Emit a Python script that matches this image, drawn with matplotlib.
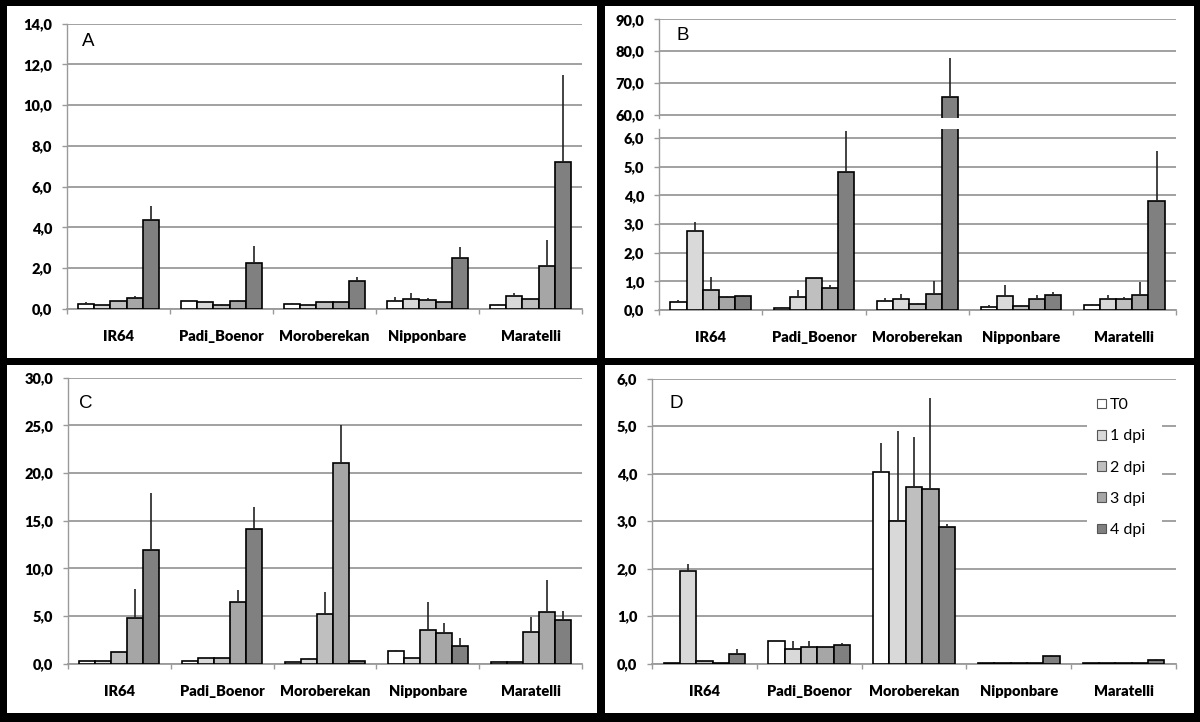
import matplotlib
matplotlib.use("Agg")
import matplotlib.pyplot as plt
import numpy as np
from matplotlib.patches import Rectangle, Patch
from matplotlib.ticker import FuncFormatter, FixedLocator
from matplotlib.font_manager import FontProperties

cultivars = ["IR64", "Padi_Boenor", "Moroberekan", "Nipponbare", "Maratelli"]
series = ["T0", "1 dpi", "2 dpi", "3 dpi", "4 dpi"]
colors = ["#ffffff", "#d9d9d9", "#bfbfbf", "#a6a6a6", "#808080"]

# rows = series (T0..4 dpi), columns = cultivars
A_vals = [[0.26, 0.38, 0.25, 0.38, 0.20],
          [0.20, 0.33, 0.20, 0.50, 0.62],
          [0.38, 0.20, 0.32, 0.45, 0.50],
          [0.55, 0.38, 0.32, 0.32, 2.10],
          [4.35, 2.25, 1.35, 2.50, 7.20]]
A_err = [[0.07, 0.03, 0.02, 0.22, 0.03],
         [0.02, 0.00, 0.02, 0.28, 0.15],
         [0.02, 0.03, 0.02, 0.08, 0.02],
         [0.10, 0.04, 0.03, 0.03, 1.27],
         [0.70, 0.85, 0.22, 0.55, 4.30]]

B_vals = [[0.27, 0.08, 0.32, 0.10, 0.18],
          [2.75, 0.45, 0.40, 0.50, 0.40],
          [0.70, 1.10, 0.22, 0.15, 0.37],
          [0.45, 0.75, 0.57, 0.38, 0.53],
          [0.48, 4.80, 65.5, 0.53, 3.80]]
B_err = [[0.08, 0.02, 0.10, 0.07, 0.03],
         [0.33, 0.25, 0.17, 0.37, 0.12],
         [0.45, 0.03, 0.03, 0.03, 0.10],
         [0.03, 0.13, 0.43, 0.15, 0.44],
         [0.03, 1.45, 12.5, 0.10, 1.75]]

C_vals = [[0.30, 0.30, 0.15, 1.35, 0.15],
          [0.30, 0.55, 0.45, 0.55, 0.15],
          [1.20, 0.55, 5.25, 3.55, 3.30],
          [4.75, 6.45, 21.05, 3.20, 5.40],
          [11.9, 14.1, 0.28, 1.85, 4.60]]
C_err = [[0.00, 0.00, 0.00, 0.05, 0.00],
         [0.00, 0.02, 0.10, 0.00, 0.00],
         [0.05, 0.00, 2.30, 2.95, 1.55],
         [3.10, 1.25, 3.95, 1.10, 3.35],
         [6.00, 2.30, 0.00, 0.80, 0.90]]

D_vals = [[0.02, 0.48, 4.03, 0.02, 0.02],
          [1.95, 0.30, 3.00, 0.02, 0.02],
          [0.05, 0.35, 3.72, 0.02, 0.02],
          [0.02, 0.35, 3.67, 0.02, 0.02],
          [0.20, 0.40, 2.88, 0.17, 0.08]]
D_err = [[0.00, 0.00, 0.62, 0.00, 0.00],
         [0.15, 0.17, 1.90, 0.00, 0.00],
         [0.01, 0.13, 1.06, 0.00, 0.00],
         [0.00, 0.00, 1.93, 0.00, 0.00],
         [0.12, 0.04, 0.07, 0.02, 0.01]]

A_ticks = [0, 2, 4, 6, 8, 10, 12, 14]
B_low_ticks = [0, 1, 2, 3, 4, 5, 6]
B_high_ticks = [60, 70, 80, 90]
C_ticks = [0, 5, 10, 15, 20, 25, 30]
D_ticks = [0, 1, 2, 3, 4, 5, 6]

W, H = 1200, 722
fig = plt.figure(figsize=(W / 100, H / 100), dpi=100, facecolor="black")

# white panels
for (x0, y0, x1, y1) in [(7, 6, 597, 358), (605, 6, 1194, 358),
                         (7, 365, 597, 713), (605, 365, 1194, 713)]:
    fig.patches.append(Rectangle((x0 / W, 1 - y1 / H), (x1 - x0) / W, (y1 - y0) / H,
                                 transform=fig.transFigure, facecolor="white",
                                 edgecolor="none", zorder=-5))

GRID = "#9a9a9a"
TICKFP = FontProperties(family="Lato", weight="heavy", size=10.5)
fmt = FuncFormatter(lambda v, p: f"{v:.1f}".replace(".", ","))
x = np.arange(len(cultivars))
bw = 0.156


def make_ax(px0, px1, ptop, pbot):
    return fig.add_axes([px0 / W, 1 - pbot / H, (px1 - px0) / W, (pbot - ptop) / H])


def style(ax, ticks, ylim, show_x=True):
    ax.set_facecolor("none")
    ax.set_xlim(-0.5, 4.5)
    ax.set_ylim(*ylim)
    ax.yaxis.set_major_locator(FixedLocator(ticks))
    ax.yaxis.set_major_formatter(fmt)
    ax.grid(axis="y", color=GRID, linewidth=1.3, zorder=0)
    ax.set_axisbelow(True)
    for s in ["top", "right"]:
        ax.spines[s].set_visible(False)
    ax.spines["left"].set_color(GRID)
    ax.spines["left"].set_linewidth(1.0)
    ax.tick_params(axis="y", direction="out", length=3.6, width=1.0, color=GRID, pad=7)
    for lab in ax.get_yticklabels():
        lab.set_fontproperties(TICKFP)
    if show_x:
        ax.spines["bottom"].set_color(GRID)
        ax.spines["bottom"].set_linewidth(1.3)
        ax.set_xticks(x)
        ax.set_xticklabels(cultivars, fontproperties=FontProperties(family="Lato", weight="heavy", size=10.5))
        ax.tick_params(axis="x", which="major", length=0, pad=15)
        ax.set_xticks(np.arange(-0.5, 5.0, 1.0), minor=True)
        ax.tick_params(axis="x", which="minor", direction="out", length=3.6, width=1.0, color=GRID)
    else:
        ax.spines["bottom"].set_visible(False)
        ax.set_xticks([])
        ax.set_xticks([], minor=True)


def draw_bars(ax, vals, errs):
    for i in range(len(series)):
        pos = x + (i - 2) * bw
        ax.bar(pos, vals[i], width=bw, color=colors[i], edgecolor="black",
               linewidth=1.2, zorder=3, label=series[i])
        e = np.array(errs[i])
        ax.errorbar(pos, vals[i], yerr=[np.zeros_like(e), e], fmt="none",
                    ecolor="#222222", elinewidth=1.2, capsize=0, zorder=4)


# Panel A
axA = make_ax(67, 582, 23.7, 309)
draw_bars(axA, A_vals, A_err)
style(axA, A_ticks, (0, 14))

# Panel B (broken axis)
axBl = make_ax(659, 1176, 129, 310)
draw_bars(axBl, B_vals, B_err)
style(axBl, B_low_ticks, (0, 6.31))
axBh = make_ax(659, 1176, 19.3, 118)
draw_bars(axBh, B_vals, B_err)
style(axBh, B_high_ticks, (59.06, 90), show_x=False)

# Panel C
axC = make_ax(68, 582, 377.7, 663.7)
draw_bars(axC, C_vals, C_err)
style(axC, C_ticks, (0, 30))

# Panel D
axD = make_ax(652, 1176, 378.7, 663.7)
draw_bars(axD, D_vals, D_err)
style(axD, D_ticks, (0, 6))

# white legend area covering gridlines (inside axes D, above grid)
axD.add_patch(Rectangle((1087 / W, 1 - 545 / H), (1162 - 1087) / W, (545 - 392) / H,
                        transform=fig.transFigure, facecolor="white",
                        edgecolor="none", zorder=2, clip_on=False))

handles = [Patch(facecolor=colors[i], edgecolor="#555555", linewidth=0.8, label=series[i])
           for i in range(len(series))]
leg = axD.legend(handles=handles, loc="upper left",
                 bbox_to_anchor=(1094 / W, 1 - 395 / H), bbox_transform=fig.transFigure,
                 prop=dict(family="Lato", size=11.5), frameon=False,
                 handlelength=0.55, handleheight=0.55, handletextpad=0.25,
                 labelspacing=1.08, borderpad=0.2, borderaxespad=0)
leg.set_zorder(10)

# panel letters
for lbl, (px, py) in zip("ABCD", [(88, 42), (683, 35), (86, 404), (676, 404)]):
    fig.text(px / W, 1 - py / H, lbl, ha="center", va="center",
             fontfamily="Liberation Sans", fontsize=13.5)

fig.savefig("out.png", dpi=100, facecolor="black")
